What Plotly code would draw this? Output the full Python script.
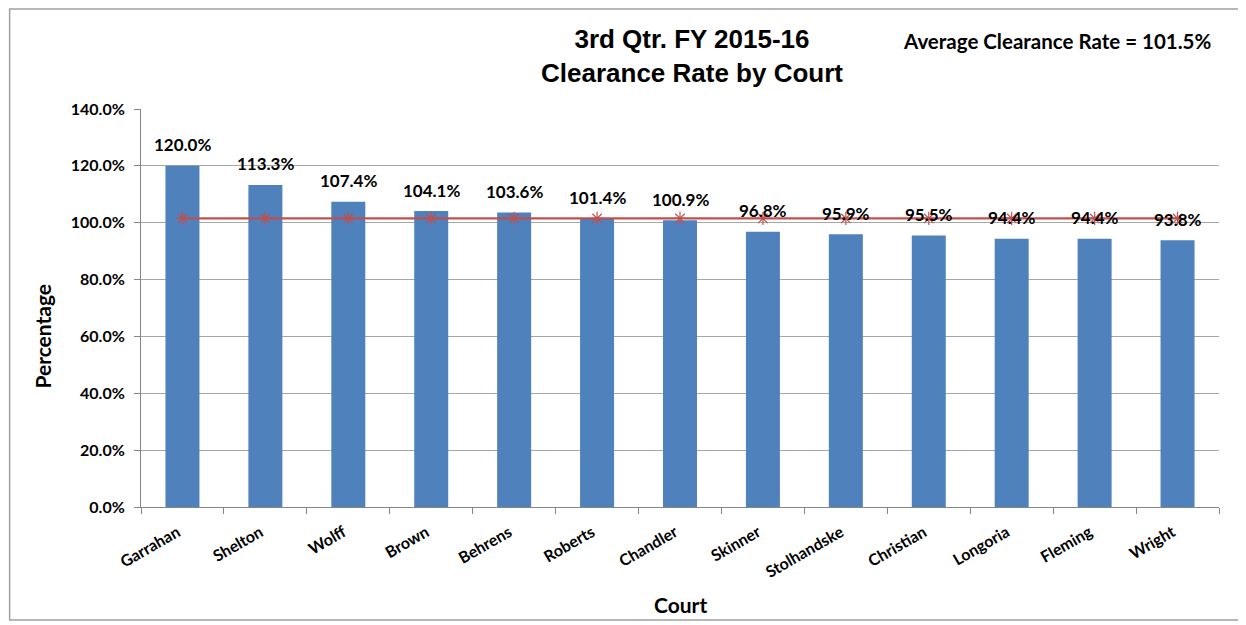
import plotly.graph_objects as go

courts = ["Garrahan", "Shelton", "Wolff", "Brown", "Behrens", "Roberts", "Chandler",
          "Skinner", "Stolhandske", "Christian", "Longoria", "Fleming", "Wright"]
rates = [1.200, 1.133, 1.074, 1.041, 1.036, 1.014, 1.009, 0.968, 0.959, 0.955, 0.944, 0.944, 0.938]
average = [1.015] * len(courts)
title_lines = ["3rd Qtr. FY 2015-16", "Clearance Rate by Court"]
avg_text = "Average Clearance Rate = 101.5%"

W, H = 1246, 625
OFF = 8  # page body margin offset
L, R, T, B = 140.5 - OFF, 26.5 + OFF, 109 - OFF, 118 + OFF
pw, ph = W - L - R, H - T - B

def px(x):
    return (x - OFF - L) / pw

def py(y):
    return (H - B - (y - OFF)) / ph

font = "Lato, 'Open Sans', Arial, sans-serif"
title_font = "'Liberation Sans Narrow', 'Arial Narrow', 'Liberation Sans', Arial, sans-serif"

fig = go.Figure()
fig.add_trace(go.Bar(
    x=courts, y=rates, marker=dict(color="#4F81BD", line=dict(width=0)),
    width=0.41, showlegend=False,
))
fig.add_trace(go.Scatter(
    x=courts, y=average, mode="lines+markers",
    line=dict(color="#C0504D", width=2.2),
    marker=dict(symbol="asterisk-open", size=11, color="#C0504D",
                line=dict(color="#C0504D", width=1.2)),
    showlegend=False,
))

label_annotations = [
    dict(x=c, y=v, xref="x", yref="y", text=f"<b>{v*100:.1f}%</b>", showarrow=False,
         xanchor="center", yanchor="middle", yshift=21,
         font=dict(family=font, size=17, color="#000000"))
    for c, v in zip(courts, rates)
]

fig.update_layout(
    width=W, height=H,
    margin=dict(l=L, r=R, t=T, b=B),
    plot_bgcolor="white", paper_bgcolor="white",
    font=dict(family=font, color="#000000"),
    xaxis=dict(
        showline=True, linecolor="#868686", linewidth=1,
        ticks="outside", ticklen=6, tickcolor="#868686", tickson="boundaries",
        tickangle=-30, ticklabelshift=-5, ticklabelstandoff=9,
        tickfont=dict(family=font, size=16, color="#000000", weight="bold"),
        range=[-0.5, len(courts) - 0.5],
    ),
    yaxis=dict(
        range=[0, 1.4], dtick=0.2, tickformat=".1%",
        showgrid=True, gridcolor="#A6A6A6", gridwidth=1,
        showline=True, linecolor="#868686", linewidth=1,
        ticks="outside", ticklen=6, tickcolor="#868686", ticklabelstandoff=6,
        tickfont=dict(family=font, size=16, color="#000000", weight="bold"),
        zeroline=False,
    ),
    annotations=label_annotations + [
        dict(text="<b>" + "<br>".join(title_lines) + "</b>", xref="paper", yref="paper",
             x=px(692), y=py(56), xanchor="center", yanchor="middle", showarrow=False,
             font=dict(family=title_font, size=26, color="#000000")),
        dict(text="<b>" + avg_text + "</b>", xref="paper", yref="paper",
             x=px(1057), y=py(41), xanchor="center", yanchor="middle", showarrow=False,
             font=dict(family=font, size=20.5, color="#000000")),
        dict(text="<b>Percentage</b>", xref="paper", yref="paper",
             x=px(41), y=py(336), xanchor="center", yanchor="middle", showarrow=False,
             textangle=-90, font=dict(family=font, size=21, color="#000000")),
        dict(text="<b>Court</b>", xref="paper", yref="paper",
             x=px(680), y=py(604), xanchor="center", yanchor="middle", showarrow=False,
             font=dict(family=font, size=21, color="#000000")),
    ],
    shapes=[
        dict(type="rect", xref="paper", yref="paper",
             x0=px(OFF + 1), x1=px(1243), y0=py(620), y1=py(OFF + 1),
             line=dict(color="#A0A0A0", width=1.5), fillcolor="rgba(0,0,0,0)", layer="below"),
    ],
)

fig.write_html("out.html")
